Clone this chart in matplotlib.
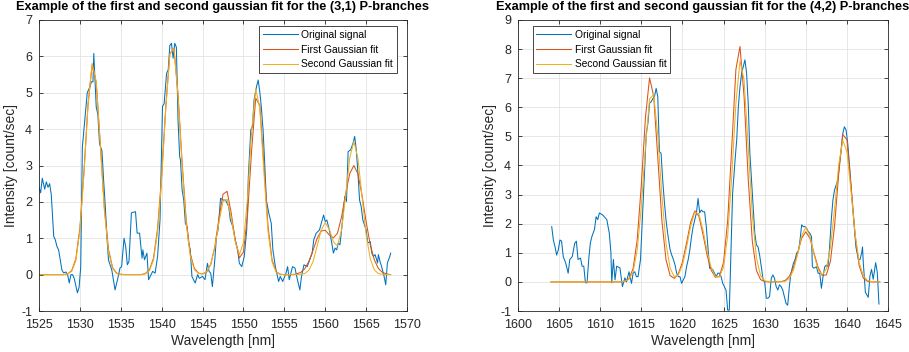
import numpy as np
import matplotlib
matplotlib.use('Agg')
import matplotlib.pyplot as plt

plt.rcParams['font.family'] = ['Liberation Sans', 'DejaVu Sans']
plt.rcParams['axes.unicode_minus'] = False

# MATLAB default line colours
BLUE, RED, YELLOW = '#0072BD', '#D95319', '#EDB120'

# ---- (3,1) P-branches: original signal ----
wl_31 = [1525.0, 1525.2, 1525.4, 1525.7, 1525.9, 1526.1, 1526.3, 1526.5, 1526.8, 1527.0,
         1527.2, 1527.4, 1527.6, 1527.8, 1528.0, 1528.3, 1528.5, 1528.7, 1528.9, 1529.1,
         1529.3, 1529.5, 1529.7, 1529.9, 1530.1, 1530.3, 1530.6, 1530.9, 1531.2, 1531.4,
         1531.6, 1531.7, 1531.8, 1532.0, 1532.2, 1532.4, 1532.7, 1532.9, 1533.1, 1533.3,
         1533.5, 1533.9, 1534.3, 1534.6, 1534.9, 1535.1, 1535.4, 1535.6, 1535.8, 1536.0,
         1536.3, 1536.8, 1537.0, 1537.3, 1537.6, 1537.7, 1537.9, 1538.2, 1538.4, 1538.7,
         1538.9, 1539.2, 1539.5, 1539.8, 1540.1, 1540.3, 1540.6, 1540.8, 1541.0, 1541.2,
         1541.4, 1541.6, 1541.8, 1542.0, 1542.2, 1542.3, 1542.5, 1542.7, 1542.9, 1543.1,
         1543.3, 1543.5, 1543.7, 1544.1, 1544.4, 1544.6, 1545.0, 1545.3, 1545.6, 1545.8,
         1546.0, 1546.2, 1546.5, 1546.7, 1546.9, 1547.2, 1547.5, 1547.8, 1548.2, 1548.4,
         1548.7, 1549.0, 1549.3, 1549.5, 1549.8, 1550.1, 1550.4, 1550.6, 1550.9, 1551.1,
         1551.3, 1551.6, 1551.8, 1552.0, 1552.2, 1552.4, 1552.6, 1552.8, 1553.1, 1553.4,
         1553.6, 1553.9, 1554.3, 1554.5, 1554.8, 1555.2, 1555.4, 1555.6, 1556.0, 1556.3,
         1556.6, 1556.9, 1557.1, 1557.4, 1557.8, 1558.1, 1558.4, 1558.6, 1558.9, 1559.3,
         1559.8, 1560.0, 1560.2, 1560.5, 1560.8, 1561.0, 1561.2, 1561.4, 1561.6, 1561.8,
         1562.0, 1562.2, 1562.4, 1562.6, 1562.8, 1563.1, 1563.4, 1563.6, 1563.8, 1564.0,
         1564.2, 1564.4, 1564.6, 1565.0, 1565.2, 1565.5, 1565.7, 1565.9, 1566.1, 1566.4,
         1566.5, 1566.7, 1566.9, 1567.2, 1567.4, 1567.6, 1567.9, 1568.0]
sig_31 = [2.4, 2.25, 2.65, 2.35, 2.55, 2.4, 2.5, 2.2, 1.05, 0.95,
          0.77, 0.68, 0.4, 0.13, 0.05, 0.07, 0.0, -0.23, 0.0, 0.0,
          -0.1, -0.3, -0.5, -0.35, 0.2, 3.5, 4.25, 5.0, 5.15, 5.3,
          5.3, 6.08, 5.6, 4.6, 4.4, 3.6, 3.4, 2.6, 1.9, 1.05,
          0.4, 0.13, -0.42, -0.14, 0.18, 0.22, 1.0, 0.77, 0.27, 0.36,
          1.7, 1.73, 1.14, 1.14, 0.45, 0.68, 0.41, 0.59, -0.14, 0.0,
          0.09, 0.04, 0.5, 1.5, 4.62, 4.7, 5.53, 5.63, 6.3, 6.36,
          5.95, 6.36, 6.25, 4.25, 3.25, 3.15, 2.33, 2.05, 1.41, 1.32,
          0.86, 0.68, -0.05, -0.23, 0.0, -0.1, -0.05, -0.14, 0.31, 0.09,
          0.04, -0.33, 0.41, 1.05, 1.23, 2.1, 2.05, 2.05, 1.87, 1.5,
          1.32, 0.96, 0.68, 0.31, 0.22, 0.5, 1.23, 2.7, 3.98, 4.07,
          4.8, 5.17, 5.35, 5.03, 4.57, 3.98, 3.06, 2.05, 1.69, 1.41,
          0.68, 0.22, -0.19, -0.05, -0.19, 0.04, 0.22, -0.14, 0.22, 0.18,
          -0.14, -0.42, -0.05, 0.27, 0.22, 0.41, 0.59, 0.96, 1.14, 1.23,
          1.64, 1.46, 1.5, 1.23, 0.87, 0.59, 0.73, 0.68, 0.87, 0.82,
          1.23, 1.69, 2.15, 2.01, 3.38, 3.43, 3.61, 3.8, 3.43, 2.79,
          2.05, 1.87, 1.5, 1.23, 0.87, 0.91, 0.59, 0.5, 0.55, 0.32,
          0.55, 0.36, 0.22, -0.05, -0.28, 0.32, 0.5, 0.59]

# fits for (3,1), sampled every 0.5 nm from 1525 to 1568
fit_wl_31 = np.arange(1525.0, 1568.01, 0.5)
fit1_31 = [0, 0, 0, 0, 0, 0, 0, 0.02, 0.11, 0.43,
           1.28, 2.84, 4.69, 5.77, 5.28, 3.59, 1.82, 0.69, 0.19, 0.04,
           0.01, 0, 0, 0, 0, 0, 0.03, 0.13, 0.45, 1.26,
           2.73, 4.61, 6.07, 6.22, 4.97, 3.09, 1.50, 0.57, 0.17, 0.04,
           0.02, 0.07, 0.28, 0.77, 1.54, 2.21, 2.29, 1.70, 0.93, 0.46,
           0.62, 1.64, 3.41, 4.85, 4.66, 3.03, 1.34, 0.40, 0.08, 0.01,
           0, 0, 0, 0.02, 0.06, 0.16, 0.36, 0.66, 0.99, 1.20,
           1.22, 1.09, 1.01, 1.14, 1.59, 2.23, 2.78, 3.00, 2.77, 2.18,
           1.46, 0.83, 0.41, 0.17, 0.06, 0.02, 0]
fit2_31 = [0, 0, 0, 0, 0, 0, 0, 0.02, 0.09, 0.38,
           1.21, 2.77, 4.69, 5.81, 5.30, 3.55, 1.74, 0.63, 0.17, 0.03,
           0, 0, 0, 0, 0, 0, 0.02, 0.11, 0.40, 1.17,
           2.63, 4.55, 6.06, 6.22, 4.92, 3.00, 1.41, 0.51, 0.14, 0.03,
           0.02, 0.08, 0.29, 0.75, 1.43, 2.01, 2.07, 1.57, 0.90, 0.55,
           0.88, 2.11, 3.94, 5.11, 4.57, 2.82, 1.20, 0.35, 0.07, 0.01,
           0, 0, 0, 0, 0.01, 0.03, 0.12, 0.35, 0.77, 1.22,
           1.43, 1.25, 0.90, 0.79, 1.23, 2.18, 3.21, 3.66, 3.20, 2.15,
           1.11, 0.44, 0.13, 0.03, 0.01, 0, 0]

# ---- (4,2) P-branches ----
wl_42 = [1604.1, 1604.3, 1604.5, 1604.7, 1604.9, 1605.1, 1605.3, 1605.5, 1605.8, 1606.1,
         1606.3, 1606.6, 1606.9, 1607.1, 1607.3, 1607.6, 1607.8, 1608.0, 1608.2, 1608.4,
         1608.6, 1608.8, 1609.0, 1609.3, 1609.5, 1609.7, 1609.9, 1610.3, 1610.8, 1611.1,
         1611.3, 1611.4, 1611.6, 1611.8, 1612.0, 1612.4, 1612.7, 1613.0, 1613.2, 1613.5,
         1613.8, 1614.0, 1614.2, 1614.4, 1614.6, 1614.9, 1615.2, 1615.4, 1615.6, 1615.8,
         1616.0, 1616.2, 1616.4, 1616.6, 1616.8, 1617.0, 1617.2, 1617.4, 1617.6, 1617.8,
         1618.0, 1618.2, 1618.5, 1618.7, 1618.9, 1619.1, 1619.3, 1619.5, 1619.7, 1619.9,
         1620.1, 1620.3, 1620.5, 1620.7, 1620.9, 1621.1, 1621.3, 1621.5, 1621.7, 1621.9,
         1622.1, 1622.3, 1622.5, 1622.7, 1622.9, 1623.1, 1623.3, 1623.5, 1623.7, 1623.9,
         1624.1, 1624.3, 1624.5, 1624.7, 1624.9, 1625.3, 1625.5, 1625.7, 1625.9, 1626.1,
         1626.4, 1626.6, 1626.8, 1627.0, 1627.2, 1627.4, 1627.6, 1627.8, 1628.0, 1628.2,
         1628.4, 1628.6, 1628.8, 1629.0, 1629.2, 1629.4, 1629.6, 1629.8, 1630.0, 1630.2,
         1630.4, 1630.6, 1630.8, 1631.0, 1631.2, 1631.4, 1631.6, 1631.8, 1632.0, 1632.2,
         1632.6, 1632.8, 1633.0, 1633.2, 1633.5, 1633.7, 1633.9, 1634.1, 1634.3, 1634.5,
         1634.7, 1634.9, 1635.1, 1635.3, 1635.5, 1635.7, 1635.8, 1636.0, 1636.3, 1636.5,
         1636.7, 1636.9, 1637.1, 1637.3, 1637.5, 1637.7, 1637.9, 1638.1, 1638.3, 1638.5,
         1638.7, 1638.9, 1639.1, 1639.3, 1639.5, 1639.7, 1639.9, 1640.1, 1640.3, 1640.5,
         1640.7, 1640.9, 1641.1, 1641.4, 1641.6, 1641.8, 1641.9, 1642.0, 1642.25, 1642.6,
         1642.8, 1643.0, 1643.2, 1643.5, 1643.7, 1643.9]
sig_42 = [1.9, 1.44, 1.21, 0.92, 1.1, 1.44, 1.4, 0.87, 0.65, 0.3,
          0.77, 0.87, 1.33, 1.4, 0.77, 0.82, 0.54, 0.54, -0.03, -0.03,
          0.77, 1.34, 1.57, 1.8, 2.24, 2.14, 2.37, 2.3, 2.14, 1.68,
          1.0, -0.03, 0.77, 0.07, 0.54, 0.48, -0.16, 0.14, 0.0, 0.35,
          -0.05, 0.3, 0.35, 0.18, 0.18, 0.77, 2.59, 3.85, 5.1, 5.45,
          6.14, 6.19, 6.3, 6.37, 6.65, 6.37, 4.48, 4.42, 3.5, 2.76,
          2.13, 1.67, 1.1, 0.92, 0.77, 0.58, 0.3, 0.18, 0.18, -0.05,
          0.07, 0.18, 0.52, 0.77, 1.1, 1.55, 1.9, 2.13, 2.37, 2.87,
          2.37, 2.47, 2.41, 2.41, 1.9, 1.2, 0.47, 0.47, 0.41, 0.3,
          0.18, 0.3, 0.3, 0.18, -0.05, -0.28, -0.97, -0.97, 1.0, 3.04,
          4.19, 4.88, 6.02, 6.71, 7.17, 7.4, 7.63, 7.17, 6.14, 4.42,
          3.5, 2.59, 1.67, 1.27, 1.2, 0.9, 0.5, 0.1, 0.0, -0.56,
          -0.56, -0.5, 0.12, 0.24, 0.12, -0.16, -0.28, -0.1, -0.16, -0.28,
          -0.74, -0.8, -0.16, 0.3, 0.64, 0.77, 1.0, 1.04, 1.44, 1.96,
          1.9, 1.9, 1.84, 1.73, 1.67, 1.55, 0.52, 0.47, 0.52, 0.3,
          0.3, -0.22, 0.18, 0.52, 0.58, 0.52, 1.2, 2.13, 2.81, 3.16,
          3.33, 3.5, 4.07, 4.53, 5.1, 5.33, 5.22, 4.76, 4.07, 3.27,
          2.59, 1.9, 1.2, 0.77, 0.77, 1.0, 1.2, 0.64, -0.36, -0.53,
          0.2, 0.43, 0.09, 0.66, 0.32, -0.76]

# fits for (4,2), sampled every 0.5 nm from 1604 to 1644
fit_wl_42 = np.arange(1604.0, 1644.01, 0.5)
fit1_42 = [0, 0, 0, 0, 0, 0, 0, 0, 0, 0,
           0, 0, 0, 0, 0, 0, 0, 0, 0.02, 0.11,
           0.46, 1.45, 3.34, 5.65, 7.01, 6.39, 4.28, 2.10, 0.76, 0.22,
           0.12, 0.28, 0.68, 1.34, 2.05, 2.44, 2.26, 1.63, 0.92, 0.40,
           0.16, 0.19, 0.68, 2.10, 4.65, 7.30, 8.09, 6.35, 3.53, 1.39,
           0.39, 0.08, 0.01, 0, 0, 0, 0.01, 0.05, 0.19, 0.49,
           0.99, 1.50, 1.72, 1.50, 0.99, 0.50, 0.22, 0.24, 0.71, 1.92,
           3.70, 5.06, 4.89, 3.34, 1.61, 0.55, 0.13, 0.02, 0, 0,
           0]
fit2_42 = [0, 0, 0, 0, 0, 0, 0, 0, 0, 0,
           0, 0, 0, 0, 0, 0, 0, 0, 0.02, 0.09,
           0.35, 1.10, 2.59, 4.63, 6.28, 6.45, 5.03, 2.97, 1.33, 0.47,
           0.18, 0.24, 0.58, 1.19, 1.92, 2.40, 2.34, 1.78, 1.05, 0.49,
           0.19, 0.17, 0.51, 1.58, 3.63, 6.13, 7.60, 6.93, 4.64, 2.28,
           0.83, 0.22, 0.04, 0.01, 0, 0, 0, 0.02, 0.12, 0.40,
           0.94, 1.58, 1.88, 1.58, 0.94, 0.42, 0.24, 0.45, 1.19, 2.51,
           4.01, 4.87, 4.48, 3.13, 1.65, 0.66, 0.20, 0.05, 0.01, 0,
           0]

panels = [
    dict(wl=wl_31, sig=sig_31, fwl=fit_wl_31, f1=fit1_31, f2=fit2_31,
         title='Example of the first and second gaussian fit for the (3,1) P-branches',
         xlim=(1525, 1570), xticks=np.arange(1525, 1571, 5), ylim=(-1, 7),
         yticks=np.arange(-1, 8, 1), rect=[39/909, 41/352, 368/909, 291/352],
         leg_loc='upper right', leg_anchor=(0.972, 0.978)),
    dict(wl=wl_42, sig=sig_42, fwl=fit_wl_42, f1=fit1_42, f2=fit2_42,
         title='Example of the first and second gaussian fit for the (4,2) P-branches',
         xlim=(1600, 1645), xticks=np.arange(1600, 1646, 5), ylim=(-1, 9),
         yticks=np.arange(-1, 10, 1), rect=[518/909, 41/352, 370/909, 291/352],
         leg_loc='upper left', leg_anchor=(0.04, 0.978)),
]

fig = plt.figure(figsize=(9.09, 3.52), dpi=100)

for p in panels:
    ax = fig.add_axes(p['rect'])
    ax.plot(p['wl'], p['sig'], color=BLUE, lw=0.75, label='Original signal')
    ax.plot(p['fwl'], p['f1'], color=RED, lw=0.75, label='First Gaussian fit')
    ax.plot(p['fwl'], p['f2'], color=YELLOW, lw=0.75, label='Second Gaussian fit')
    ax.set_xlim(*p['xlim'])
    ax.set_ylim(*p['ylim'])
    ax.set_xticks(p['xticks'])
    ax.set_yticks(p['yticks'])
    ax.grid(True, color='#e3e3e3', lw=0.6)
    ax.set_axisbelow(True)
    ax.tick_params(direction='in', length=3, width=0.6, colors='#262626',
                   labelsize=9, top=True, right=True)
    ax.tick_params(axis='x', pad=6)
    ax.tick_params(axis='y', pad=5)
    for s in ax.spines.values():
        s.set_color('#262626')
        s.set_linewidth(0.6)
    ax.set_xlabel('Wavelength [nm]', fontsize=10, color='#262626', labelpad=2)
    ax.set_ylabel('Intensity [count/sec]', fontsize=10, color='#262626', labelpad=2)
    ax.set_title(p['title'], fontsize=9.2, fontweight='bold', pad=7)
    leg = ax.legend(loc=p['leg_loc'], bbox_to_anchor=p['leg_anchor'], fontsize=7.4,
                    frameon=True, fancybox=False, framealpha=1, edgecolor='#262626',
                    handlelength=3.4, handletextpad=0.35, borderpad=0.35,
                    labelspacing=0.45, borderaxespad=0)
    leg.get_frame().set_linewidth(0.6)

fig.savefig('out.png', dpi=100)
